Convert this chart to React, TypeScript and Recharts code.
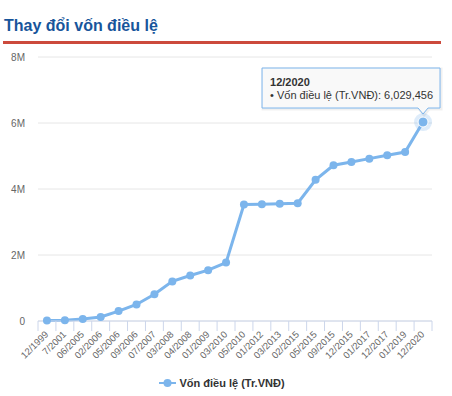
import React from 'react';
import { LineChart, Line, XAxis, YAxis, CartesianGrid, Legend } from 'recharts';

const title = 'Thay đổi vốn điều lệ';
const seriesName = 'Vốn điều lệ (Tr.VNĐ)';

const categories = [
  '12/1999', '7/2001', '06/2005', '02/2006', '05/2006', '09/2006', '07/2007',
  '03/2008', '04/2008', '01/2009', '03/2010', '05/2010', '01/2012', '03/2013',
  '02/2015', '05/2015', '09/2015', '12/2015', '01/2017', '12/2017', '01/2019', '12/2020',
];

const capital = [
  12000, 25000, 60000, 120000, 300000, 500000, 810000,
  1200000, 1380000, 1540000, 1770000, 3530000, 3540000, 3550000,
  3570000, 4280000, 4720000, 4820000, 4920000, 5020000, 5120000, 6029456,
];

const yTicks = [0, 2000000, 4000000, 6000000, 8000000];

const data = categories.map((period, i) => ({ period, value: capital[i] }));

const COLOR = '#7cb5ec';
const FONT = '"Liberation Sans", Arial, Helvetica, sans-serif';
const PLOT_W = 394;
const STEP = PLOT_W / categories.length;

const fmtY = (v: number) => (v === 0 ? '0' : `${v / 1000000}M`);
const fmtNum = (v: number) => v.toLocaleString('en-US');

function XTick(props: any) {
  const { x, y, payload, index } = props;
  const tx = x + 2;
  const ty = y + 14;
  return (
    <g>
      <line x1={x - STEP / 2} x2={x - STEP / 2} y1={y} y2={y + 10} stroke="#ccd6eb" />
      {index === categories.length - 1 && (
        <line x1={x + STEP / 2} x2={x + STEP / 2} y1={y} y2={y + 10} stroke="#ccd6eb" />
      )}
      <text
        x={tx}
        y={ty}
        textAnchor="end"
        fontSize={9.5}
        fill="#666666"
        transform={`rotate(-45, ${tx}, ${ty})`}
      >
        {payload.value}
      </text>
    </g>
  );
}

function Dot(props: any) {
  const { cx, cy, index } = props;
  if (cx == null || cy == null) return null;
  if (index !== data.length - 1) {
    return <circle key={`d${index}`} cx={cx} cy={cy} r={4} fill={COLOR} />;
  }
  const left = cx - 161;
  const right = cx + 17;
  const top = cy - 54;
  const bottom = cy - 14;
  const path = `M${left},${top} H${right} V${bottom} H${cx + 5} L${cx},${cy - 8} L${cx - 5},${bottom} H${left} Z`;
  const d = data[index];
  return (
    <g key={`d${index}`}>
      <circle cx={cx} cy={cy} r={9} fill={COLOR} fillOpacity={0.25} />
      <circle cx={cx} cy={cy} r={5} fill={COLOR} stroke="#ffffff" strokeWidth={1} />
      <path d={path} transform="translate(1,1)" fill="none" stroke="rgba(0,0,0,0.06)" strokeWidth={3} />
      <path d={path} fill="rgba(249,249,249,0.95)" stroke={COLOR} strokeWidth={1} />
      <text x={left + 8} y={top + 18} fontSize={11} fontWeight="bold" fill="#333333">
        {d.period}
      </text>
      <text x={left + 8} y={top + 31} fontSize={11} fill="#333333">
        {`• ${seriesName}: ${fmtNum(d.value)}`}
      </text>
    </g>
  );
}

function LegendContent() {
  return (
    <div style={{ display: 'flex', justifyContent: 'center', alignItems: 'center', height: 26, paddingRight: 8 }}>
      <svg width={17} height={10} style={{ display: 'block' }}>
        <line x1={0} x2={17} y1={5} y2={5} stroke={COLOR} strokeWidth={2} />
        <circle cx={8.5} cy={5} r={4} fill={COLOR} />
      </svg>
      <span style={{ marginLeft: 3, fontSize: 11, fontWeight: 'bold', color: '#333333', fontFamily: FONT }}>
        {seriesName}
      </span>
    </div>
  );
}

export default function App() {
  return (
    <div style={{ position: 'absolute', left: 0, top: 0, width: 452, height: 396, fontFamily: FONT, background: '#ffffff' }}>
      <LineChart
        width={452}
        height={396}
        data={data}
        margin={{ top: 57, right: 20, bottom: 0, left: 0 }}
      >
        <CartesianGrid vertical={false} stroke="#e6e6e6" />
        <XAxis
          dataKey="period"
          interval={0}
          height={49}
          padding={{ left: STEP / 2, right: STEP / 2 }}
          tickLine={false}
          tickSize={0}
          tickMargin={0}
          axisLine={{ stroke: '#ccd6eb' }}
          tick={<XTick />}
        />
        <YAxis
          width={38}
          domain={[0, 8000000]}
          ticks={yTicks}
          tickFormatter={fmtY}
          tickLine={false}
          axisLine={false}
          tickSize={0}
          tickMargin={13}
          tick={{ fontSize: 10, fill: '#666666' }}
        />
        <Legend
          verticalAlign="bottom"
          content={<LegendContent />}
          wrapperStyle={{ left: 0, width: 452 }}
        />
        <Line
          type="linear"
          dataKey="value"
          name={seriesName}
          stroke={COLOR}
          strokeWidth={3}
          dot={<Dot />}
          activeDot={false}
          isAnimationActive={false}
        />
      </LineChart>
      <div
        style={{
          position: 'absolute',
          left: 4,
          top: 17,
          fontSize: 16,
          lineHeight: '18px',
          fontWeight: 'bold',
          color: '#17559b',
          fontFamily: FONT,
          whiteSpace: 'nowrap',
        }}
      >
        {title}
      </div>
      <div style={{ position: 'absolute', left: 3, top: 41, width: 438, height: 2.5, background: '#cc4a3c' }} />
    </div>
  );
}
